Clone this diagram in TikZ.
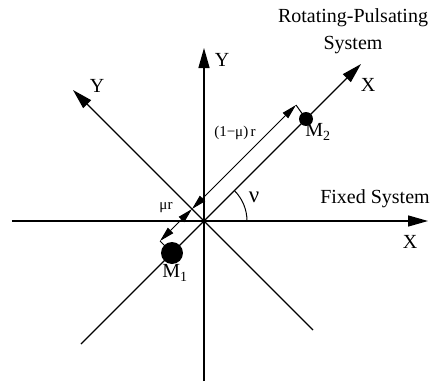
\documentclass[tikz,border=0pt]{standalone}
\usepackage{fontspec}
\setmainfont{Liberation Serif}
\usetikzlibrary{arrows.meta}

\begin{document}
\begin{tikzpicture}[x=1pt, y=1pt,
    eje/.style={line width=1.4pt, -{Triangle[length=20pt,width=11pt]}},
    cota/.style={line width=1pt, {Triangle[length=15pt,width=7.5pt]}-{Triangle[length=15pt,width=7.5pt]}},
    tope/.style={line width=1pt},
    masa/.style={circle, fill=black, inner sep=0pt},
    rotulo/.style={font=\fontsize{20}{24}\selectfont, inner sep=0pt},
    rotulochico/.style={font=\fontsize{15}{17}\selectfont, inner sep=0pt},
]
\useasboundingbox (-204,-160) rectangle (235,221);

% ejes fijos
\coordinate (fxa) at (-192,0);
\coordinate (fxb) at (224,0);
\coordinate (fya) at (0,-160);
\coordinate (fyb) at (0,173);
\draw [eje] (fxa) -- (fxb);
\draw [eje] (fya) -- (fyb);

% ejes rotantes
\coordinate (rxa) at (-123,-123);
\coordinate (rxb) at (157,157);
\coordinate (rya) at (109,-109);
\coordinate (ryb) at (-131,131);
\draw [eje, line width=1.3pt] (rxa) -- (rxb);
\draw [eje, line width=1.3pt] (rya) -- (ryb);

% masas
\node (m1) [masa, minimum size=22pt] at (-32,-32) {};
\node (m2) [masa, minimum size=14pt] at (102,102) {};

% cotas
\coordinate (cmed) at (-12,12);
\coordinate (csup) at (92,116);
\coordinate (cinf) at (-44,-20);
\draw [tope] (csup) -- (m2.center);
\draw [tope] (cinf) -- (m1.center);
\draw [cota] (cmed) -- (csup);
\draw [cota] (cmed) -- (cinf);

% angulo
\coordinate (arcini) at (43,0);
\draw [line width=1pt] (arcini) arc[start angle=0, end angle=45, radius=43];

% rotulos
\node (lyfijo) [rotulo] at (18,161) {Y};
\node (lxfijo) [rotulo] at (206,-21) {X};
\node (lyrot) [rotulo] at (-107,135) {Y};
\node (lxrot) [rotulo] at (164,136) {X};
\node (lfijo) [rotulo] at (171,22) {Fixed System};
\node (lrot) [rotulo, align=center, font=\fontsize{20}{27}\selectfont] at (149,190) {Rotating-Pulsating\\ System};
\node (lnu) [rotulo, font=\fontsize{23}{24}\selectfont] at (50,24) {ν};
\node (lm1) [rotulo] at (-29,-52) {M\textsubscript{1}};
\node (lm2) [rotulo] at (114,89) {M\textsubscript{2}};
\node (lcota1) [rotulochico] at (31,88) {(1−μ)\,r};
\node (lcota2) [rotulochico] at (-38,13) {μr};

\end{tikzpicture}
\end{document}
